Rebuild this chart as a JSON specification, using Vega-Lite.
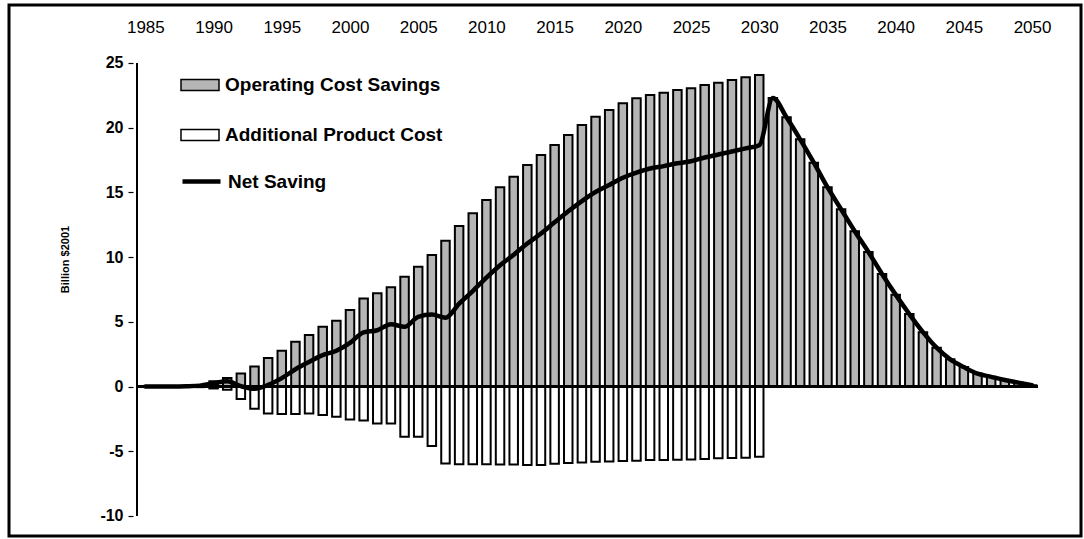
{
  "$schema": "https://vega.github.io/schema/vega-lite/v6.json",
  "width": 1072,
  "height": 531,
  "autosize": {"type": "none"},
  "padding": {"left": 9, "top": 5, "right": 3, "bottom": 3},
  "background": "white",
  "view": {"stroke": "black", "strokeWidth": 3, "fill": "white"},
  "config": {
    "font": "Liberation Sans",
    "axisX": {
      "domain": false, "ticks": false, "grid": false, "labelFontSize": 17, "labelColor": "black",
      "labelPadding": 2, "offset": -33, "labelFlush": false, "labelOverlap": false, "format": "d"
    },
    "axisY": {
      "domain": false, "grid": false, "tickSize": 5, "tickColor": "black", "tickWidth": 1.2,
      "labelFontSize": 16, "labelFontWeight": "bold", "labelColor": "black", "labelPadding": 5,
      "labelExpr": "'' + datum.value",
      "offset": -124, "titleFontSize": 11, "titleFontWeight": "bold", "titleColor": "black",
      "titleX": -68, "titleY": 254, "titleAngle": -90, "titleAlign": "center", "titleBaseline": "middle"
    }
  },
  "data": {
    "values": [
      {"year": 1985, "savings": null, "cost": null, "net": 0},
      {"year": 1986, "savings": null, "cost": null, "net": 0},
      {"year": 1987, "savings": null, "cost": null, "net": 0},
      {"year": 1988, "savings": 0.03, "cost": -0.01, "net": 0.02},
      {"year": 1989, "savings": 0.12, "cost": -0.05, "net": 0.07},
      {"year": 1990, "savings": 0.4, "cost": -0.15, "net": 0.25},
      {"year": 1991, "savings": 0.65, "cost": -0.25, "net": 0.4},
      {"year": 1992, "savings": 1.0, "cost": -0.97, "net": 0.03},
      {"year": 1993, "savings": 1.55, "cost": -1.72, "net": -0.17},
      {"year": 1994, "savings": 2.2, "cost": -2.08, "net": 0.12},
      {"year": 1995, "savings": 2.77, "cost": -2.12, "net": 0.65},
      {"year": 1996, "savings": 3.46, "cost": -2.13, "net": 1.33},
      {"year": 1997, "savings": 3.98, "cost": -2.08, "net": 1.9},
      {"year": 1998, "savings": 4.62, "cost": -2.2, "net": 2.42},
      {"year": 1999, "savings": 5.09, "cost": -2.33, "net": 2.76},
      {"year": 2000, "savings": 5.91, "cost": -2.54, "net": 3.37},
      {"year": 2001, "savings": 6.81, "cost": -2.62, "net": 4.19},
      {"year": 2002, "savings": 7.2, "cost": -2.85, "net": 4.35},
      {"year": 2003, "savings": 7.67, "cost": -2.85, "net": 4.82},
      {"year": 2004, "savings": 8.49, "cost": -3.88, "net": 4.61},
      {"year": 2005, "savings": 9.26, "cost": -3.88, "net": 5.38},
      {"year": 2006, "savings": 10.16, "cost": -4.6, "net": 5.56},
      {"year": 2007, "savings": 11.27, "cost": -5.95, "net": 5.32},
      {"year": 2008, "savings": 12.4, "cost": -6.0, "net": 6.4},
      {"year": 2009, "savings": 13.38, "cost": -6.0, "net": 7.38},
      {"year": 2010, "savings": 14.41, "cost": -6.0, "net": 8.41},
      {"year": 2011, "savings": 15.39, "cost": -6.02, "net": 9.37},
      {"year": 2012, "savings": 16.21, "cost": -6.03, "net": 10.18},
      {"year": 2013, "savings": 17.12, "cost": -6.07, "net": 11.05},
      {"year": 2014, "savings": 17.89, "cost": -6.07, "net": 11.82},
      {"year": 2015, "savings": 18.66, "cost": -5.97, "net": 12.69},
      {"year": 2016, "savings": 19.44, "cost": -5.9, "net": 13.54},
      {"year": 2017, "savings": 20.21, "cost": -5.88, "net": 14.33},
      {"year": 2018, "savings": 20.85, "cost": -5.82, "net": 15.03},
      {"year": 2019, "savings": 21.37, "cost": -5.8, "net": 15.57},
      {"year": 2020, "savings": 21.89, "cost": -5.76, "net": 16.13},
      {"year": 2021, "savings": 22.27, "cost": -5.74, "net": 16.53},
      {"year": 2022, "savings": 22.53, "cost": -5.68, "net": 16.85},
      {"year": 2023, "savings": 22.7, "cost": -5.67, "net": 17.03},
      {"year": 2024, "savings": 22.91, "cost": -5.66, "net": 17.25},
      {"year": 2025, "savings": 23.04, "cost": -5.63, "net": 17.41},
      {"year": 2026, "savings": 23.3, "cost": -5.6, "net": 17.7},
      {"year": 2027, "savings": 23.48, "cost": -5.55, "net": 17.93},
      {"year": 2028, "savings": 23.69, "cost": -5.53, "net": 18.16},
      {"year": 2029, "savings": 23.9, "cost": -5.5, "net": 18.4},
      {"year": 2030, "savings": 24.07, "cost": -5.42, "net": 18.65},
      {"year": 2031, "savings": 22.3, "cost": null, "net": 22.3},
      {"year": 2032, "savings": 20.8, "cost": null, "net": 20.8},
      {"year": 2033, "savings": 19.1, "cost": null, "net": 19.1},
      {"year": 2034, "savings": 17.3, "cost": null, "net": 17.3},
      {"year": 2035, "savings": 15.4, "cost": null, "net": 15.4},
      {"year": 2036, "savings": 13.7, "cost": null, "net": 13.7},
      {"year": 2037, "savings": 12.0, "cost": null, "net": 12.0},
      {"year": 2038, "savings": 10.4, "cost": null, "net": 10.4},
      {"year": 2039, "savings": 8.7, "cost": null, "net": 8.7},
      {"year": 2040, "savings": 7.1, "cost": null, "net": 7.1},
      {"year": 2041, "savings": 5.6, "cost": null, "net": 5.6},
      {"year": 2042, "savings": 4.2, "cost": null, "net": 4.2},
      {"year": 2043, "savings": 3.0, "cost": null, "net": 3.0},
      {"year": 2044, "savings": 2.1, "cost": null, "net": 2.1},
      {"year": 2045, "savings": 1.5, "cost": null, "net": 1.5},
      {"year": 2046, "savings": 1.0, "cost": null, "net": 1.0},
      {"year": 2047, "savings": 0.75, "cost": null, "net": 0.75},
      {"year": 2048, "savings": 0.5, "cost": null, "net": 0.5},
      {"year": 2049, "savings": 0.3, "cost": null, "net": 0.3},
      {"year": 2050, "savings": 0.1, "cost": null, "net": 0.1}
    ]
  },
  "layer": [
    {
      "mark": {"type": "bar", "size": 8.5, "stroke": "black", "strokeWidth": 2},
      "encoding": {
        "x": {"field": "year", "type": "quantitative",
              "scale": {"domain": [1975.37, 2053.22], "nice": false, "zero": false},
              "axis": {"orient": "top", "values": [1985, 1990, 1995, 2000, 2005, 2010, 2015, 2020, 2025, 2030, 2035, 2040, 2045, 2050], "title": null}},
        "y": {"field": "savings", "type": "quantitative",
              "scale": {"domain": [-11.55, 29.48], "nice": false, "zero": false},
              "axis": {"values": [-10, -5, 0, 5, 10, 15, 20, 25], "title": "Billion $2001"}},
        "y2": {"datum": 0},
        "fill": {"datum": "Operating Cost Savings",
                 "scale": {"domain": ["Operating Cost Savings", "Additional Product Cost"], "range": ["#b5b5b5", "#ffffff"]},
                 "legend": {"title": null, "orient": "none", "legendX": 171, "legendY": 60, "padding": 0,
                            "symbolType": "M-1,-0.29H1V0.29H-1Z", "symbolSize": 1444,
                            "symbolStrokeColor": "black", "symbolStrokeWidth": 1.5,
                            "labelFontSize": 19, "labelFontWeight": "bold", "labelColor": "black",
                            "labelLimit": 0, "labelOffset": 5, "rowPadding": 20}}
      }
    },
    {
      "mark": {"type": "bar", "size": 8.5, "stroke": "black", "strokeWidth": 2},
      "encoding": {
        "x": {"field": "year", "type": "quantitative",
              "axis": {"orient": "top", "values": [1985, 1990, 1995, 2000, 2005, 2010, 2015, 2020, 2025, 2030, 2035, 2040, 2045, 2050], "title": null}},
        "y": {"field": "cost", "type": "quantitative",
              "axis": {"values": [-10, -5, 0, 5, 10, 15, 20, 25], "title": "Billion $2001"}},
        "y2": {"datum": 0},
        "fill": {"datum": "Additional Product Cost"}
      }
    },
    {
      "mark": {"type": "rule", "color": "black", "strokeWidth": 1.5},
      "encoding": {
        "x": {"datum": 1984.375, "type": "quantitative"},
        "x2": {"datum": 2050.4},
        "y": {"datum": 0, "type": "quantitative"}
      }
    },
    {
      "mark": {"type": "rule", "color": "black", "strokeWidth": 1.5},
      "encoding": {
        "x": {"datum": 1984.375, "type": "quantitative"},
        "y": {"datum": -10, "type": "quantitative"},
        "y2": {"datum": 25}
      }
    },
    {
      "mark": {"type": "line", "interpolate": "monotone", "strokeWidth": 4.5, "strokeCap": "round"},
      "encoding": {
        "x": {"field": "year", "type": "quantitative",
              "axis": {"orient": "top", "values": [1985, 1990, 1995, 2000, 2005, 2010, 2015, 2020, 2025, 2030, 2035, 2040, 2045, 2050], "title": null}},
        "y": {"field": "net", "type": "quantitative",
              "axis": {"values": [-10, -5, 0, 5, 10, 15, 20, 25], "title": "Billion $2001"}},
        "stroke": {"datum": "Net Saving", "scale": {"range": ["black"]},
                   "legend": {"title": null, "orient": "none", "legendX": 171, "legendY": 155, "padding": 0,
                              "symbolType": "stroke", "symbolSize": 1444, "symbolStrokeWidth": 4.5,
                              "labelFontSize": 19, "labelFontWeight": "bold", "labelColor": "black",
                              "labelLimit": 0, "labelOffset": 5}}
      }
    }
  ]
}
